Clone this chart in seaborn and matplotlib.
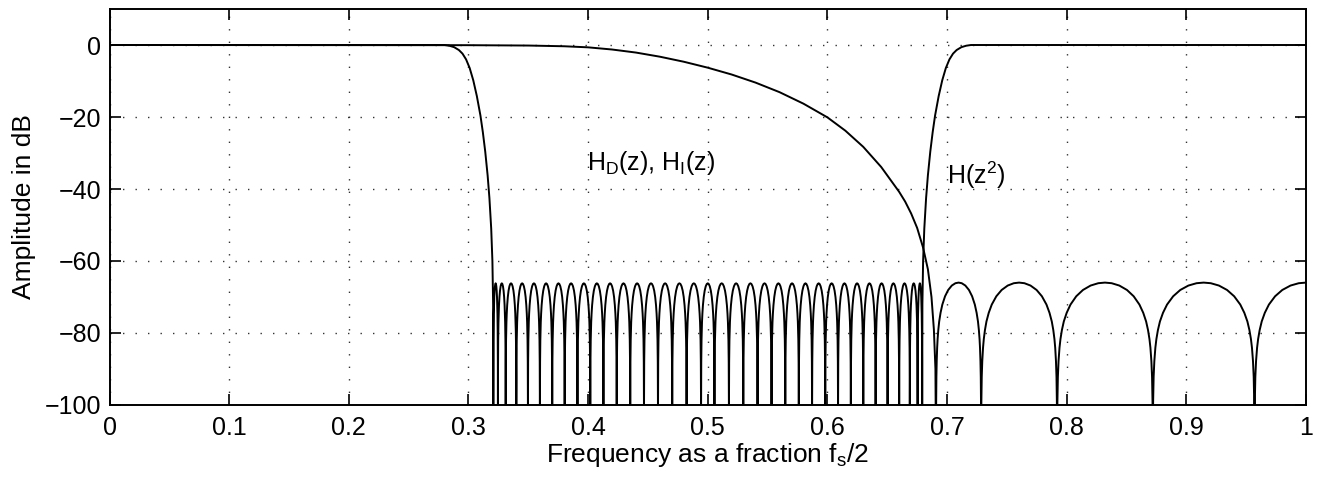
import numpy as np
import pandas as pd
import seaborn as sns
import matplotlib
matplotlib.use("Agg")
import matplotlib.pyplot as plt

# ---------------- data ----------------
freq_ticks = [0, 0.1, 0.2, 0.3, 0.4, 0.5, 0.6, 0.7, 0.8, 0.9, 1.0]
freq_tick_labels = ["0", "0.1", "0.2", "0.3", "0.4", "0.5", "0.6", "0.7", "0.8", "0.9", "1"]
db_ticks = [-100, -80, -60, -40, -20, 0]

# H(z^2): lower passband and falling transition
hz2_low_f = [0.0, 0.280, 0.284, 0.288, 0.292, 0.295, 0.298, 0.301, 0.304, 0.307,
             0.310, 0.312, 0.314, 0.316, 0.3175, 0.319, 0.320, 0.3206]
hz2_low_db = [0.0, 0.0, -0.2, -0.6, -1.4, -2.4, -4.0, -6.4, -9.8, -14.2,
              -19.6, -24.2, -29.6, -36.2, -42.5, -51.0, -60.0, -72.0]
# H(z^2): stopband nulls (equiripple lobes between them)
hz2_nulls = [0.3208, 0.3246, 0.3311, 0.3400, 0.3497, 0.3597, 0.3700, 0.3804, 0.3911,
             0.4018, 0.4128, 0.4239, 0.4352, 0.4467, 0.4584, 0.4703, 0.4823, 0.4944,
             0.5056, 0.5177, 0.5297, 0.5416, 0.5533, 0.5648, 0.5761, 0.5872, 0.5982,
             0.6089, 0.6196, 0.6300, 0.6403, 0.6503, 0.6600, 0.6689, 0.6754, 0.6792]
hz2_ripple_peak = -66.2
# H(z^2): rising transition and upper passband
hz2_high_f = [0.6794, 0.680, 0.681, 0.6825, 0.684, 0.686, 0.688, 0.690, 0.693, 0.696,
              0.699, 0.702, 0.705, 0.708, 0.712, 0.716, 0.720, 1.0]
hz2_high_db = [-72.0, -60.0, -51.0, -42.5, -36.2, -29.6, -24.2, -19.6, -14.2, -9.8,
               -6.4, -4.0, -2.4, -1.4, -0.6, -0.2, 0.0, 0.0]

# H_D(z), H_I(z): smooth roll-off
hd_f = [0.0, 0.20, 0.30, 0.35, 0.38, 0.40, 0.42, 0.44, 0.46, 0.48, 0.50, 0.52, 0.54,
        0.56, 0.58, 0.60, 0.615, 0.63, 0.645, 0.66, 0.665, 0.67, 0.675, 0.68, 0.684,
        0.687, 0.689, 0.6903]
hd_db = [0.0, -0.02, -0.05, -0.15, -0.35, -0.65, -1.25, -2.1, -3.25, -4.65, -6.3, -8.2, -10.45,
         -13.1, -16.3, -20.1, -23.8, -28.3, -33.9, -40.8, -43.5, -46.8, -50.8, -56.3, -62.3,
         -70.0, -79.0, -90.0]
# H_D(z), H_I(z): stopband nulls
hd_nulls = [0.6908, 0.7285, 0.7920, 0.8720, 0.9570, 1.0430]
hd_ripple_peak = -66.0

# shape of one stopband lobe (fraction of lobe width, dB below the lobe peak)
lobe_t = [0.0, 0.003, 0.008, 0.015, 0.025, 0.035, 0.05, 0.07, 0.1, 0.14, 0.2, 0.27, 0.35, 0.43, 0.5,
          0.57, 0.65, 0.73, 0.8, 0.86, 0.9, 0.93, 0.95, 0.965, 0.975, 0.985, 0.992, 0.997, 1.0]
lobe_rel = [-50, -33.2, -26.2, -21.8, -18.1, -15.7, -13.2, -10.8, -8.4, -6.1, -3.8, -2.05, -0.82, -0.17, 0.0,
            -0.17, -0.82, -2.05, -3.8, -6.1, -8.4, -10.8, -13.2, -15.7, -18.1, -21.8, -26.2, -33.2, -50]


def lobes(nulls, peak):
    xs, ys = [], []
    for a, b in zip(nulls[:-1], nulls[1:]):
        xs += [a + t * (b - a) for t in lobe_t]
        ys += [peak + r for r in lobe_rel]
    return xs, ys


rx, ry = lobes(hz2_nulls, hz2_ripple_peak)
hz2 = pd.DataFrame({"f": hz2_low_f + rx + hz2_high_f,
                    "db": hz2_low_db + ry + hz2_high_db})
lx, ly = lobes(hd_nulls, hd_ripple_peak)
hd = pd.DataFrame({"f": hd_f + lx, "db": hd_db + ly})

# ---------------- styling ----------------
sns.set_style("ticks")
plt.rcParams["font.family"] = ["Liberation Sans", "DejaVu Sans"]
plt.rcParams["mathtext.fontset"] = "custom"
plt.rcParams["mathtext.rm"] = "Liberation Sans"
plt.rcParams["mathtext.it"] = "Liberation Sans"
plt.rcParams["mathtext.default"] = "regular"
plt.rcParams["text.color"] = "black"
plt.rcParams["axes.labelcolor"] = "black"
plt.rcParams["xtick.color"] = "black"
plt.rcParams["ytick.color"] = "black"

fig = plt.figure(figsize=(13.28, 4.79), dpi=100)
ax = fig.add_axes([0.0825, 0.1545, 0.9009, 0.8267])

sns.lineplot(data=hd, x="f", y="db", estimator=None, sort=False, color="black", lw=1.4, ax=ax)
sns.lineplot(data=hz2, x="f", y="db", estimator=None, sort=False, color="black", lw=1.4, ax=ax)

ax.set_xlim(0, 1)
ax.set_ylim(-100, 10)
ax.set_xticks(freq_ticks)
ax.set_xticklabels(freq_tick_labels)
ax.set_yticks(db_ticks)
ax.grid(True, color="0.2", linestyle=(0, (1, 8)), linewidth=1.0)
ax.set_axisbelow(True)

for s in ax.spines.values():
    s.set_visible(True)
    s.set_linewidth(1.4)
    s.set_color("black")
ax.tick_params(direction="in", length=8, width=1.2, top=True, right=True,
               labelsize=18, colors="black", pad=8)
ax.tick_params(axis="y", pad=6)

ax.set_xlabel("Frequency as a fraction $f_s$/2", fontsize=19, labelpad=1, color="black")
ax.set_ylabel("Amplitude in dB", fontsize=19, labelpad=6, color="black")

ax.text(0.399, -34.7, "$H_D(z)$, $H_I(z)$", fontsize=18, ha="left", va="baseline", color="black")
ax.text(0.6998, -38.5, "$H(z^2)$", fontsize=18, ha="left", va="baseline", color="black")

fig.savefig("out.png", dpi=100)
